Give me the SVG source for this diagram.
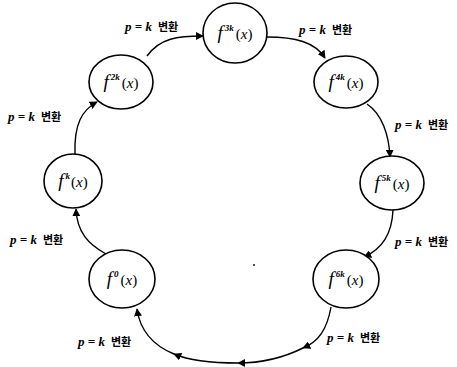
<svg xmlns="http://www.w3.org/2000/svg" width="457" height="367" viewBox="0 0 457 367">
<style>
.node ellipse{fill:#fff;stroke:#000;stroke-width:1.6}
.nt{font-family:"Liberation Serif",serif;font-size:15px;fill:#000;text-anchor:middle}
.f{font-style:italic;font-size:19px}
.sup{font-size:9px;font-weight:bold;font-style:italic}
.x{font-style:italic}
.lbl{font-family:"Liberation Serif","Noto Sans CJK KR",serif;font-size:13px;fill:#000}
.m{font-style:italic;font-weight:bold}
.k{font-family:"Noto Sans CJK KR",sans-serif;font-size:11px;font-weight:bold}
.edge{fill:none;stroke:#000;stroke-width:1.4}
</style>
<defs>
<marker id="ah" viewBox="0 0 10 10" refX="9" refY="5" markerWidth="8" markerHeight="8" markerUnits="userSpaceOnUse" orient="auto">
<path d="M0,0 L10,5 L0,10 Z" fill="#000"/>
</marker>
</defs>
<rect width="457" height="367" fill="#fff"/>
<g id="connectors">
<path class="edge" d="M147,56 C160,38 178,36 203,36" marker-end="url(#ah)"/>
<path class="edge" d="M267,37 C295,37 315,42 325,58" marker-end="url(#ah)"/>
<path class="edge" d="M367,104 C382,114 389,135 390,157" marker-end="url(#ah)"/>
<path class="edge" d="M393,210 C392,236 380,250 364,257" marker-end="url(#ah)"/>
<path class="edge" d="M331,307 C327,330 318,342 303,348 C285,357 262,363 238,363 C210,363 188,360 174,354 C152,345 140,330 137,309" marker-mid="url(#ah)" marker-end="url(#ah)"/>
<path class="edge" d="M106,254 C88,244 77,232 76,209" marker-end="url(#ah)"/>
<path class="edge" d="M75,154 C74,124 82,110 97,102" marker-end="url(#ah)"/>
</g>
<g id="n0" class="node"><ellipse cx="122" cy="279" rx="33" ry="29"/><text class="nt" x="122" y="285"><tspan class="f">f</tspan><tspan class="sup" dx="2" dy="-8">0</tspan><tspan dy="8" dx="2">(<tspan class="x">x</tspan>)</tspan></text></g>
<g id="n1" class="node"><ellipse cx="73" cy="181" rx="29" ry="27"/><text class="nt" x="73" y="187"><tspan class="f">f</tspan><tspan class="sup" dx="2" dy="-8">k</tspan><tspan dy="8" dx="1">(<tspan class="x">x</tspan>)</tspan></text></g>
<g id="n2" class="node"><ellipse cx="121" cy="82" rx="32" ry="27"/><text class="nt" x="121" y="88"><tspan class="f">f</tspan><tspan class="sup" dx="2" dy="-8">2k</tspan><tspan dy="8" dx="2">(<tspan class="x">x</tspan>)</tspan></text></g>
<g id="n3" class="node"><ellipse cx="235" cy="33" rx="32" ry="30"/><text class="nt" x="235" y="39"><tspan class="f">f</tspan><tspan class="sup" dx="2" dy="-8">3k</tspan><tspan dy="8" dx="2">(<tspan class="x">x</tspan>)</tspan></text></g>
<g id="n4" class="node"><ellipse cx="346" cy="82" rx="32" ry="26"/><text class="nt" x="346" y="88"><tspan class="f">f</tspan><tspan class="sup" dx="2" dy="-8">4k</tspan><tspan dy="8" dx="2">(<tspan class="x">x</tspan>)</tspan></text></g>
<g id="n5" class="node"><ellipse cx="392" cy="183" rx="32" ry="27"/><text class="nt" x="392" y="189"><tspan class="f">f</tspan><tspan class="sup" dx="2" dy="-8">5k</tspan><tspan dy="8" dx="2">(<tspan class="x">x</tspan>)</tspan></text></g>
<g id="n6" class="node"><ellipse cx="346" cy="279" rx="33" ry="29"/><text class="nt" x="346" y="285"><tspan class="f">f</tspan><tspan class="sup" dx="2" dy="-8">6k</tspan><tspan dy="8" dx="2">(<tspan class="x">x</tspan>)</tspan></text></g>
<g id="labels">
<text class="lbl" x="125" y="31"><tspan class="m">p = k</tspan><tspan class="k" dx="6">변환</tspan></text>
<text class="lbl" x="299" y="34"><tspan class="m">p = k</tspan><tspan class="k" dx="6">변환</tspan></text>
<text class="lbl" x="8" y="121"><tspan class="m">p = k</tspan><tspan class="k" dx="6">변환</tspan></text>
<text class="lbl" x="395" y="129"><tspan class="m">p = k</tspan><tspan class="k" dx="6">변환</tspan></text>
<text class="lbl" x="10" y="244"><tspan class="m">p = k</tspan><tspan class="k" dx="6">변환</tspan></text>
<text class="lbl" x="395" y="246"><tspan class="m">p = k</tspan><tspan class="k" dx="6">변환</tspan></text>
<text class="lbl" x="78" y="346"><tspan class="m">p = k</tspan><tspan class="k" dx="6">변환</tspan></text>
<text class="lbl" x="327" y="342"><tspan class="m">p = k</tspan><tspan class="k" dx="6">변환</tspan></text>
</g>
<circle cx="254" cy="265" r="0.9" fill="#000"/>
</svg>
